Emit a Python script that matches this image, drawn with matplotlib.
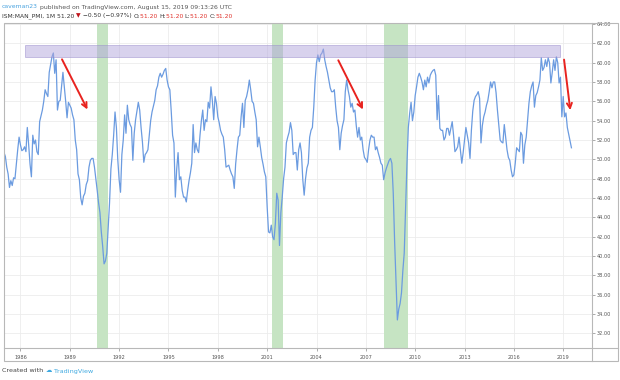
import numpy as np
import matplotlib
matplotlib.use('Agg')
import matplotlib.pyplot as plt
from matplotlib.patches import Rectangle
from matplotlib.lines import Line2D

# ISM manufacturing PMI, monthly
pmi_1985 = [50.7, 50.3, 49.2, 48.5, 47.1, 47.8, 47.3, 48.1, 48.0, 49.5, 51.0, 52.3]
pmi_1986 = [51.5, 50.9, 51.0, 51.3, 50.8, 53.3, 51.5, 49.5, 48.2, 52.5, 51.6, 52.0]
pmi_1987 = [50.8, 50.5, 53.9, 54.5, 55.1, 56.0, 57.2, 56.8, 56.5, 59.0, 59.8, 60.6]
pmi_1988 = [61.0, 58.9, 60.3, 55.1, 56.0, 56.1, 57.5, 59.0, 57.5, 56.0, 54.3, 55.9]
pmi_1989 = [55.6, 55.3, 54.6, 54.1, 52.0, 51.0, 48.5, 47.9, 46.0, 45.3, 46.2, 46.5]
pmi_1990 = [47.4, 47.8, 49.2, 49.9, 50.1, 50.1, 49.2, 48.0, 46.8, 45.5, 44.5, 42.5]
pmi_1991 = [41.0, 39.2, 39.5, 40.3, 43.0, 45.5, 49.0, 50.5, 52.5, 54.9, 53.3, 50.0]
pmi_1992 = [47.9, 46.6, 50.5, 52.0, 54.6, 52.7, 55.6, 54.1, 53.6, 53.3, 49.9, 52.7]
pmi_1993 = [54.1, 55.0, 55.9, 55.1, 53.3, 51.8, 49.7, 50.5, 50.7, 51.0, 52.5, 54.0]
pmi_1994 = [54.9, 55.5, 56.1, 57.2, 57.6, 58.5, 58.9, 58.5, 58.8, 59.2, 59.4, 58.2]
pmi_1995 = [57.5, 57.2, 55.0, 52.5, 51.7, 46.1, 49.0, 50.7, 47.9, 48.2, 46.8, 46.1]
pmi_1996 = [46.1, 45.6, 46.8, 47.8, 48.6, 49.6, 53.6, 50.7, 51.7, 51.0, 50.7, 52.5]
pmi_1997 = [54.0, 55.1, 53.0, 54.1, 53.9, 55.9, 55.3, 57.5, 56.1, 54.1, 56.5, 55.8]
pmi_1998 = [54.4, 53.8, 53.0, 52.6, 52.3, 51.0, 49.2, 49.3, 49.4, 48.9, 48.5, 48.2]
pmi_1999 = [47.0, 49.5, 51.0, 52.3, 52.5, 54.4, 55.8, 53.3, 56.1, 56.5, 57.2, 58.2]
pmi_2000 = [57.2, 56.0, 55.8, 54.9, 54.1, 51.3, 52.3, 51.3, 50.2, 49.5, 48.7, 48.2]
pmi_2001 = [45.1, 42.5, 42.4, 43.2, 42.0, 41.7, 43.4, 46.5, 45.8, 41.1, 44.5, 46.1]
pmi_2002 = [48.0, 49.2, 51.7, 52.3, 52.8, 53.8, 53.0, 50.5, 50.7, 50.7, 48.9, 51.0]
pmi_2003 = [51.7, 50.7, 47.9, 46.3, 48.0, 49.1, 49.6, 52.3, 53.0, 53.3, 55.4, 58.2]
pmi_2004 = [60.0, 60.8, 60.1, 60.8, 61.0, 61.4, 60.3, 59.6, 59.0, 58.2, 57.4, 57.0]
pmi_2005 = [57.0, 57.2, 55.4, 54.0, 53.3, 51.0, 52.7, 53.5, 54.1, 57.0, 58.2, 57.2]
pmi_2006 = [56.5, 55.4, 55.8, 54.9, 55.1, 53.5, 52.3, 53.3, 52.0, 52.3, 51.0, 50.2]
pmi_2007 = [50.0, 49.7, 51.0, 52.0, 52.5, 52.3, 52.3, 51.0, 51.3, 50.7, 50.2, 49.6]
pmi_2008 = [49.4, 47.9, 48.6, 49.1, 49.5, 49.9, 50.1, 49.6, 46.5, 41.5, 37.5, 33.4]
pmi_2009 = [34.5, 35.1, 36.2, 38.5, 40.3, 45.1, 49.6, 53.3, 54.8, 55.9, 54.0, 54.9]
pmi_2010 = [56.6, 57.5, 58.5, 58.9, 58.5, 58.0, 57.2, 58.2, 57.5, 58.5, 57.9, 58.7]
pmi_2011 = [59.0, 59.2, 59.3, 58.7, 54.1, 56.6, 53.2, 53.0, 53.0, 52.0, 52.3, 53.2]
pmi_2012 = [53.2, 52.5, 53.2, 53.9, 52.5, 50.8, 51.0, 51.3, 52.3, 51.0, 49.6, 50.7]
pmi_2013 = [52.0, 53.3, 52.5, 51.7, 50.1, 53.0, 55.0, 56.1, 56.5, 56.7, 57.0, 56.3]
pmi_2014 = [51.7, 53.5, 54.4, 54.9, 55.6, 56.1, 57.0, 58.0, 57.4, 58.0, 58.0, 56.9]
pmi_2015 = [55.1, 53.6, 52.0, 51.8, 51.7, 53.6, 52.3, 51.0, 50.2, 49.9, 48.9, 48.2]
pmi_2016 = [48.4, 49.6, 51.2, 51.0, 50.8, 52.8, 52.5, 49.6, 51.5, 52.3, 54.1, 55.8]
pmi_2017 = [57.0, 57.6, 58.0, 55.4, 56.6, 56.9, 57.5, 58.2, 60.5, 59.2, 59.5, 60.3]
pmi_2018 = [59.6, 60.5, 60.0, 57.9, 59.0, 60.3, 59.2, 60.6, 60.0, 57.9, 58.5, 54.4]
pmi_2019 = [56.5, 54.4, 54.8, 53.3, 52.6, 51.9, 51.2]

start_year = 1985
recessions = [(1990.65, 1991.3), (2001.3, 2001.95), (2008.1, 2009.55)]
band_x = (1986.3, 2018.8)   # purple resistance band
band_y = (60.6, 61.8)
arrow_tails = [(1988.45, 60.6), (2005.25, 60.5), (2019.03, 60.6)]
arrow_heads = [(1990.15, 54.9), (2006.9, 54.9), (2019.45, 54.8)]
year_ticks = list(range(1986, 2020, 3))
value_ticks = list(range(32, 65, 2))

pmi = (pmi_1985 + pmi_1986 + pmi_1987 + pmi_1988 + pmi_1989 + pmi_1990 + pmi_1991
       + pmi_1992 + pmi_1993 + pmi_1994 + pmi_1995 + pmi_1996 + pmi_1997 + pmi_1998
       + pmi_1999 + pmi_2000 + pmi_2001 + pmi_2002 + pmi_2003 + pmi_2004 + pmi_2005
       + pmi_2006 + pmi_2007 + pmi_2008 + pmi_2009 + pmi_2010 + pmi_2011 + pmi_2012
       + pmi_2013 + pmi_2014 + pmi_2015 + pmi_2016 + pmi_2017 + pmi_2018 + pmi_2019)
t = start_year + np.arange(len(pmi)) / 12.0

W, H = 620, 380
fig = plt.figure(figsize=(W / 100, H / 100), dpi=100)
plt.rcParams['font.family'] = ['DejaVu Sans']

def fx(px):
    return px / W

def fy(py):
    return 1 - py / H

ax = fig.add_axes([fx(4), fy(348), fx(592) - fx(4), fy(23) - fy(348)])
ax.set_xlim(1985.0, 2020.75)
ax.set_ylim(30.5, 64.1)

for a, b in recessions:
    ax.axvspan(a, b, color='#c6e4c3', lw=0, zorder=1)

ax.plot(t, pmi, color='#6b9be0', lw=0.9, zorder=3)

ax.add_patch(Rectangle((band_x[0], band_y[0]), band_x[1] - band_x[0], band_y[1] - band_y[0],
                       facecolor='#b2a6dc', alpha=0.5, edgecolor='#9a8dcc', lw=0.7, zorder=4))

for tail, head in zip(arrow_tails, arrow_heads):
    ax.annotate('', xy=head, xytext=tail,
                arrowprops=dict(arrowstyle='->', color='#e8231f', lw=1.4, mutation_scale=9),
                zorder=5)

ax.set_xticks(year_ticks)
ax.set_xticklabels([str(y) for y in year_ticks])
ax.set_yticks(value_ticks)
ax.set_yticklabels(['%.2f' % v for v in value_ticks])
ax.yaxis.tick_right()
ax.tick_params(axis='y', labelsize=3.6, colors='#8a8a8a', length=2, width=0.5, pad=1.5, labelcolor='#555555')
ax.tick_params(axis='x', labelsize=3.6, colors='#8a8a8a', length=2, width=0.5, pad=3, labelcolor='#555555')
ax.grid(True, color='#ececec', lw=0.6, zorder=0)
ax.set_axisbelow(True)
for s in ax.spines.values():
    s.set_visible(False)

# frame of the chart, time scale and price scale
border = '#b8b8b8'
fig.add_artist(Rectangle((fx(4), fy(361)), fx(618) - fx(4), fy(23) - fy(361),
                         transform=fig.transFigure, fill=False, edgecolor=border, lw=0.8))
fig.add_artist(Line2D([fx(592), fx(592)], [fy(23), fy(361)], color=border, lw=0.8))
fig.add_artist(Line2D([fx(4), fx(618)], [fy(348), fy(348)], color=border, lw=0.8))

def seq_text(x, y, parts, **kw):
    r = fig.canvas.get_renderer()
    for s, c in parts:
        txt = fig.text(x, y, s, color=c, va='center', **kw)
        x += txt.get_window_extent(renderer=r).width / fig.bbox.width

red = '#e0302a'
dark = '#333333'
seq_text(fx(2), fy(7), [('caveman23', '#4aa3df'),
                        (' published on TradingView.com, August 15, 2019 09:13:26 UTC', '#555555')],
         fontsize=4.4)
seq_text(fx(2), fy(16), [('ISM:MAN_PMI, 1M ', dark), ('51.20 ', dark), ('\u25bc', '#c0141b'),
                         (' \u22120.50 (\u22120.97%) ', dark), ('O:', dark), ('51.20 ', red),
                         ('H:', dark), ('51.20 ', red), ('L:', dark), ('51.20 ', red),
                         ('C:', dark), ('51.20', red)],
         fontsize=4.3)
seq_text(fx(2), fy(371), [('Created with ', '#444444'), ('\u2601', '#3fa9e0'),
                          (' TradingView', '#3fa9e0')], fontsize=4.6)

fig.savefig('out.png', dpi=100, facecolor='white')
